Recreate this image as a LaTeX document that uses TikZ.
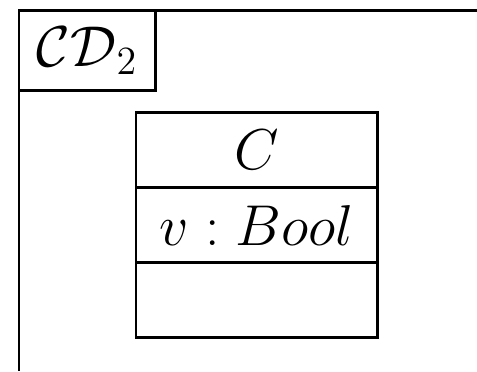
\documentclass[tikz,border=0pt]{standalone}
\usetikzlibrary{positioning}
\begin{document}
\begin{tikzpicture}[x=0.3pt,y=0.3pt,line width=0.8pt,
  compartment/.style={draw,minimum width=72.5pt,minimum height=22.5pt,inner sep=0pt,outer sep=0pt,font=\LARGE}]
  \useasboundingbox (0,0) rectangle (477,371);
  % frame of the diagram
  \coordinate (corner) at (19,360.3);
  \coordinate (topend) at (477,360.3);
  \coordinate (leftend) at (19,0);
  \draw (topend) -- (corner) -- (leftend);
  \node[draw,anchor=north west,minimum width=41pt,minimum height=24pt,inner sep=0pt,outer sep=0pt,font=\LARGE] (framelabel) at (corner) {$\mathcal{CD}_2$};
  % class C
  \node[compartment] (cname) at (256.85,221) {$C$};
  \node[compartment,below=0pt of cname] (cattr) {$v : Bool$};
  \node[compartment,below=0pt of cattr] (cops) {};
\end{tikzpicture}
\end{document}
